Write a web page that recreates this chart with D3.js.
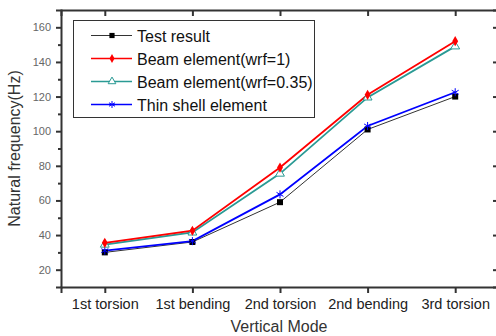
<!DOCTYPE html>
<html>
<head>
<meta charset="utf-8">
<script src="https://cdn.jsdelivr.net/npm/d3@7"></script>
<style>
  body { margin: 0; background: #fff; }
  svg { display: block; font-family: "Liberation Sans", Arial, sans-serif; }
</style>
</head>
<body>
<div id="chart"></div>
<script>
const modes = ['1st torsion', '1st bending', '2nd torsion', '2nd bending', '3rd torsion'];
const testResult = [30, 36, 59, 101, 120];
const beamWrf1 = [35.5, 42.5, 79, 121, 152];
const beamWrf035 = [34.5, 41.5, 75.5, 119.5, 149];
const thinShell = [31, 36.5, 63.5, 103, 122.5];
const yTicks = [20, 40, 60, 80, 100, 120, 140, 160];

const width = 496, height = 336;
const plotLeft = 61, plotRight = 499, plotTop = 10, plotBottom = 287;

const svg = d3.select('#chart').append('svg')
    .attr('width', width)
    .attr('height', height);

const x = d3.scalePoint().domain(modes).range([plotLeft, plotRight]).padding(0.5);
const y = d3.scaleLinear().domain([10, 170]).range([plotBottom, plotTop]);

const axisColor = '#333';
const labelColor = '#666';

// axes
const xBottom = svg.append('g')
    .attr('transform', `translate(0,${plotBottom})`)
    .call(d3.axisBottom(x).tickSize(6).tickPadding(6));
const xTop = svg.append('g')
    .attr('transform', `translate(0,${plotTop})`)
    .call(d3.axisTop(x).tickSize(-6).tickFormat(''));
const yLeft = svg.append('g')
    .attr('transform', `translate(${plotLeft},0)`)
    .call(d3.axisLeft(y).tickValues(yTicks).tickSize(5).tickPadding(5));
const yRight = svg.append('g')
    .attr('transform', `translate(${plotRight},0)`)
    .call(d3.axisRight(y).tickValues(yTicks).tickSize(-6).tickFormat(''));

// minor ticks
const minor = d3.range(30, 170, 20);
svg.append('g')
    .attr('transform', `translate(${plotLeft},0)`)
    .call(d3.axisLeft(y).tickValues(minor).tickSize(3).tickFormat(''))
    .select('.domain').remove();
svg.append('g')
    .attr('transform', `translate(${plotRight},0)`)
    .call(d3.axisRight(y).tickValues(minor).tickSize(-3).tickFormat(''))
    .select('.domain').remove();

[xBottom, xTop, yLeft, yRight].forEach(g => {
    g.select('.domain').attr('stroke', axisColor).attr('stroke-width', 2);
});
svg.selectAll('.tick line').attr('stroke', axisColor).attr('stroke-width', 2);
svg.selectAll('.tick text')
    .attr('fill', labelColor)
    .style('font-size', '11px');
xBottom.selectAll('.tick text').attr('fill', '#222').style('font-size', '14.5px');

// axis titles
svg.append('text')
    .attr('x', 279)
    .attr('y', 332)
    .attr('text-anchor', 'middle')
    .style('font-size', '16px')
    .attr('fill', '#333')
    .text('Vertical Mode');

svg.append('text')
    .attr('transform', `translate(20,${(plotTop + plotBottom) / 2}) rotate(-90)`)
    .attr('text-anchor', 'middle')
    .style('font-size', '16px')
    .attr('fill', '#333')
    .text('Natural frequency(Hz)');

const series = [
    {name: 'Test result', values: testResult, color: '#333', width: 1, marker: 'square'},
    {name: 'Thin shell element', values: thinShell, color: '#0000ff', width: 1.8, marker: 'asterisk'},
    {name: 'Beam element(wrf=0.35)', values: beamWrf035, color: '#2a9a94', width: 1.8, marker: 'triangle'},
    {name: 'Beam element(wrf=1)', values: beamWrf1, color: '#ff0000', width: 1.8, marker: 'diamond'}
];

const line = d3.line()
    .x((d, i) => x(modes[i]))
    .y(d => y(d));

function drawMarker(g, type, color, k) {
    if (type === 'square') {
        g.append('path').attr('d', d3.symbol(d3.symbolSquare, 36 * k)()).attr('fill', '#000');
    } else if (type === 'diamond') {
        g.append('path').attr('d', d3.symbol(d3.symbolDiamond, 30 * k)()).attr('fill', color);
    } else if (type === 'triangle') {
        g.append('path').attr('d', d3.symbol(d3.symbolTriangle, 34 * k)())
            .attr('fill', '#fff').attr('stroke', color).attr('stroke-width', 1);
    } else if (type === 'asterisk') {
        g.append('path').attr('d', d3.symbol(d3.symbolAsterisk, 45 * k)())
            .attr('fill', 'none').attr('stroke', color).attr('stroke-width', 1);
    }
}

series.forEach(s => {
    svg.append('path')
        .datum(s.values)
        .attr('fill', 'none')
        .attr('stroke', s.color)
        .attr('stroke-width', s.width)
        .attr('d', line);
});
series.forEach(s => {
    s.values.forEach((v, i) => {
        const g = svg.append('g').attr('transform', `translate(${x(modes[i])},${y(v)})`);
        drawMarker(g, s.marker, s.color, 1);
    });
});

// legend
const legendOrder = [series[0], series[3], series[2], series[1]];
const legend = svg.append('g');
legend.append('rect')
    .attr('x', 73.5).attr('y', 20.5)
    .attr('width', 241).attr('height', 97)
    .attr('fill', '#fff')
    .attr('stroke', axisColor)
    .attr('stroke-width', 1);

legendOrder.forEach((s, i) => {
    const ly = 35.5 + i * 23;
    legend.append('line')
        .attr('x1', 91).attr('x2', 132)
        .attr('y1', ly).attr('y2', ly)
        .attr('stroke', s.color)
        .attr('stroke-width', s.width === 1 ? 1 : 1.5);
    drawMarker(legend.append('g').attr('transform', `translate(112,${ly})`), s.marker, s.color, 0.75);
    legend.append('text')
        .attr('x', 137)
        .attr('y', ly + 6)
        .style('font-size', '16px')
        .attr('fill', '#111')
        .text(s.name);
});
</script>
</body>
</html>
